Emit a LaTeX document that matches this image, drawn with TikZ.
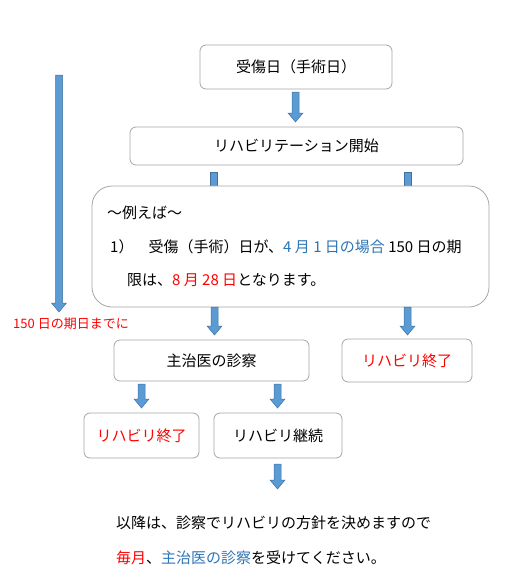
\documentclass[tikz,border=0pt]{standalone}
\usepackage{fontspec}
\setmainfont{Noto Sans CJK JP}
\definecolor{arrowfill}{HTML}{5B9BD5}
\definecolor{arrowline}{HTML}{41719C}
\definecolor{boxline}{HTML}{A6A6A6}
\definecolor{txtblue}{HTML}{2E75B6}
\definecolor{txtred}{HTML}{FF0000}
\newcommand\barrow[3]{%
  \filldraw[fill=arrowfill, draw=arrowline, line width=0.5pt]
    (#1-3.5,#2) -- (#1+3.5,#2) -- (#1+3.5,#3-9) -- (#1+7.5,#3-9) -- (#1,#3)
    -- (#1-7.5,#3-9) -- (#1-3.5,#3-9) -- cycle;}
\newcommand\bstub[3]{%
  \filldraw[fill=arrowfill, draw=arrowline, line width=0.5pt]
    (#1-3.5,#2) rectangle (#1+3.5,#3);}
\begin{document}
\begin{tikzpicture}[x=1pt,y=-1pt,
  box/.style={draw=boxline, fill=white, line width=0.8pt, rounded corners=6pt,
    inner sep=0pt, font=\fontsize{15pt}{17pt}\selectfont},
  txt/.style={inner sep=0pt, anchor=west, font=\fontsize{15pt}{17pt}\selectfont},
  smalltxt/.style={inner sep=0pt, font=\fontsize{13pt}{15pt}\selectfont, text=txtred}]
\useasboundingbox (0,0) rectangle (508,581);
% arrows behind boxes
\bstub{214}{172}{190}
\bstub{407.5}{172}{190}
\node[box, minimum width=192pt, minimum height=44pt] (b1) at (296,67) {受傷日（手術日）};
\node[box, minimum width=333pt, minimum height=38pt] (b2) at (296.5,146) {リハビリテーション開始};
\node[box, minimum width=397pt, minimum height=121pt, rounded corners=20pt] (b3) at (290.5,246.5) {};
\node[txt] (t1) at (107,213) {～例えば～};
\node[txt] (t2) at (110,247) {1）　受傷（手術）日が、\textcolor{txtblue}{4 月 1 日の場合} 150 日の期};
\node[txt] (t3) at (127,280) {限は、\textcolor{txtred}{8 月 28 日}となります。};
\node[box, minimum width=195pt, minimum height=41pt] (b4) at (211.5,360.5) {主治医の診察};
\node[box, minimum width=130pt, minimum height=43pt, text=txtred] (b5) at (407,360.5) {リハビリ終了};
\node[box, minimum width=115pt, minimum height=45pt, text=txtred] (b6) at (141.5,435.5) {リハビリ終了};
\node[box, minimum width=128pt, minimum height=45pt] (b7) at (278,435.5) {リハビリ継続};
\node[smalltxt] (lbl) at (71,324) {150 日の期日までに};
\node[txt] (n1) at (116,523) {以降は、診察でリハビリの方針を決めますので};
\node[txt] (n2) at (116,558) {\textcolor{txtred}{毎月}、\textcolor{txtblue}{主治医の診察}を受けてください。};
% block arrows
\barrow{295.5}{92}{122}
\barrow{59}{75}{312}
\barrow{214.5}{307}{335}
\barrow{407.5}{307}{335}
\barrow{141.5}{384}{408}
\barrow{277.5}{384}{408}
\barrow{277.5}{464}{489}
\end{tikzpicture}
\end{document}
